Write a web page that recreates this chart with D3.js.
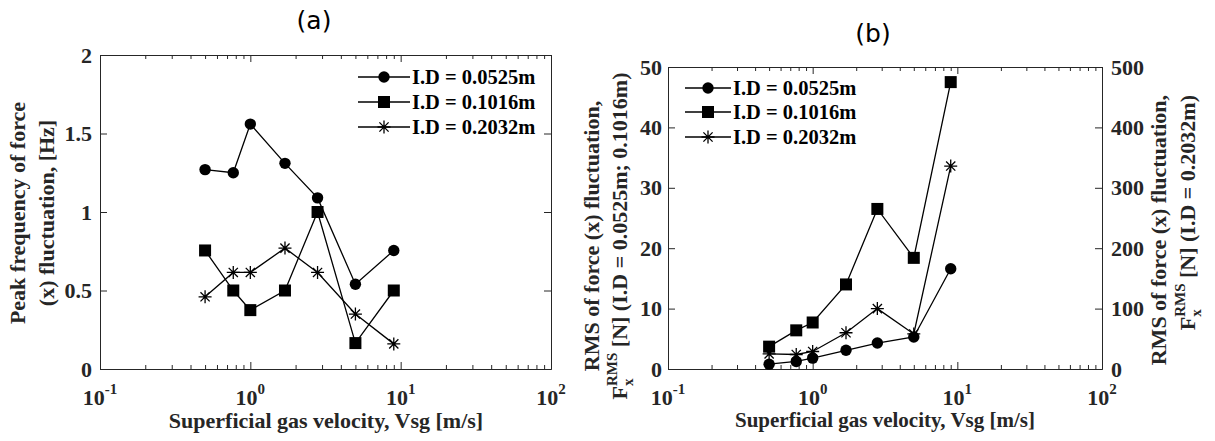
<!DOCTYPE html>
<html><head><meta charset="utf-8">
<script src="https://cdn.jsdelivr.net/npm/d3@7"></script>
<style>body{margin:0;background:#fff} svg{display:block}</style>
</head><body><svg id="c" width="1215" height="441"></svg>
<script>
// ---------------- data ----------------
const vsg = [0.5, 0.77, 1.0, 1.7, 2.8, 5.0, 9.0];
const seriesNames = ["I.D = 0.0525m", "I.D = 0.1016m", "I.D = 0.2032m"];
const markerTypes = ["circle", "square", "star"];
// (a) peak frequency [Hz]
const freq0525 = [1.27, 1.25, 1.56, 1.31, 1.09, 0.54, 0.755];
const freq1016 = [0.755, 0.5, 0.375, 0.5, 1.0, 0.165, 0.5];
const freq2032 = [0.46, 0.615, 0.615, 0.77, 0.615, 0.35, 0.16];
// (b) RMS force [N]
const rms0525 = [0.8, 1.25, 1.8, 3.1, 4.3, 5.3, 16.6];
const rms1016 = [3.7, 6.4, 7.7, 14.0, 26.5, 18.4, 47.5];
const rms2032 = [25, 24, 29, 60, 100, 58, 336];   // right axis
// ticks
const xDecades = [0.1, 1, 10, 100];
const xDecadeExp = ["-1", "0", "1", "2"];
const yTicksA = [0, 0.5, 1, 1.5, 2];
const yTickLabelsA = ["0", "0.5", "1", "1.5", "2"];
const yTicksBL = [0, 10, 20, 30, 40, 50];
const yTicksBR = [0, 100, 200, 300, 400, 500];

// ---------------- setup ----------------
const FONT = "Liberation Serif, Times New Roman, serif";
const AX = "#262626";
const svg = d3.select("#c");
const minorTicks = [];
[0.1, 1, 10].forEach(d => { for (let k = 2; k <= 9; k++) minorTicks.push(d * k); });

function measure(txt, size) {
  const t = svg.append("text").attr("font-family", FONT).attr("font-weight", "bold")
    .attr("font-size", size).text(txt);
  const w = t.node().getComputedTextLength(); t.remove(); return w;
}

function drawMarker(g, type, x, y) {
  if (type === "circle") g.append("circle").attr("cx", x).attr("cy", y).attr("r", 5.7).attr("fill", "#000");
  else if (type === "square") g.append("rect").attr("x", x - 6).attr("y", y - 6).attr("width", 12).attr("height", 12).attr("fill", "#000");
  else {
    const s = 6.5, d = 4.6;
    g.append("path").attr("d", `M${x - s},${y}H${x + s}M${x},${y - s}V${y + s}M${x - d},${y - d}L${x + d},${y + d}M${x - d},${y + d}L${x + d},${y - d}`)
      .attr("stroke", "#000").attr("stroke-width", 1.3).attr("fill", "none");
  }
}

function styleAxis(sel) {
  sel.selectAll(".domain").attr("stroke", AX).attr("stroke-width", 1);
  sel.selectAll(".tick line").attr("stroke", AX).attr("stroke-width", 1);
  sel.selectAll("text").attr("font-family", FONT).attr("font-weight", "bold")
    .attr("font-size", 22).attr("fill", AX);
}

function logXAxes(x, top, bottom) {
  [[d3.axisBottom, bottom], [d3.axisTop, top]].forEach(([fn, yy]) => {
    const gMaj = svg.append("g").attr("transform", `translate(0,${yy})`)
      .call(fn(x).tickValues(xDecades).tickSize(-7).tickSizeOuter(0).tickFormat(""));
    styleAxis(gMaj);
    const gMin = svg.append("g").attr("transform", `translate(0,${yy})`)
      .call(fn(x).tickValues(minorTicks).tickSize(-4).tickSizeOuter(0).tickFormat(""));
    styleAxis(gMin);
  });
  xDecades.forEach((d, i) => {
    const t = svg.append("text").attr("x", x(d)).attr("y", 405).attr("text-anchor", "middle")
      .attr("font-family", FONT).attr("font-weight", "bold").attr("font-size", 22).attr("fill", AX);
    t.append("tspan").text("10");
    t.append("tspan").attr("dy", -11).attr("font-size", 15).text(xDecadeExp[i]);
  });
}

function rotText(bx, cy, txt, anchor) {
  svg.append("text").attr("transform", `translate(${bx},${cy}) rotate(-90)`)
    .attr("text-anchor", anchor || "middle")
    .attr("font-family", FONT).attr("font-weight", "bold").attr("font-size", 22).attr("fill", AX)
    .text(txt);
}

function fRmsLabel(bx, yPos, anchor, rest) {
  const wF = measure("F", 22), wR = measure("RMS", 15), wr = measure(rest, 22);
  const total = wF + wR + wr;
  const x0 = anchor === "middle" ? -total / 2 : anchor === "end" ? -total : 0;
  const g = svg.append("g").attr("transform", `translate(${bx},${yPos}) rotate(-90)`)
    .attr("font-family", FONT).attr("font-weight", "bold").attr("fill", AX);
  g.append("text").attr("x", x0).attr("y", 0).attr("font-size", 22).text("F");
  g.append("text").attr("x", x0 + wF).attr("y", -10).attr("font-size", 15).text("RMS");
  g.append("text").attr("x", x0 + wF).attr("y", 6).attr("font-size", 15).text("x");
  g.append("text").attr("x", x0 + wF + wR).attr("y", 0).attr("font-size", 22).text(rest);
}

function drawSeries(x, y, vals, type) {
  const g = svg.append("g");
  const line = d3.line().x((d, i) => x(vsg[i])).y(d => y(d));
  g.append("path").attr("d", line(vals)).attr("fill", "none").attr("stroke", "#000").attr("stroke-width", 1.3);
  vals.forEach((v, i) => drawMarker(g, type, x(vsg[i]), y(v)));
}

function legend(xl0, xl1, xText, rows) {
  seriesNames.forEach((name, i) => {
    const yy = rows[i];
    svg.append("line").attr("x1", xl0).attr("x2", xl1).attr("y1", yy).attr("y2", yy)
      .attr("stroke", "#000").attr("stroke-width", 1.3);
    const g = svg.append("g");
    drawMarker(g, markerTypes[i], (xl0 + xl1) / 2, yy);
    svg.append("text").attr("x", xText).attr("y", yy + 7).attr("font-family", FONT)
      .attr("font-weight", "bold").attr("font-size", 20.5).attr("fill", "#000").text(name);
  });
}

// ---------------- panel (a) ----------------
{
  const L = 100, R = 551, T = 55, B = 369;
  const x = d3.scaleLog().domain([0.1, 100]).range([L, R]);
  const y = d3.scaleLinear().domain([0, 2]).range([B, T]);
  const gl = svg.append("g").attr("transform", `translate(${L},0)`)
    .call(d3.axisLeft(y).tickValues(yTicksA).tickSize(-7).tickSizeOuter(0).tickPadding(8)
      .tickFormat((d, i) => yTickLabelsA[i]));
  styleAxis(gl);
  const gr = svg.append("g").attr("transform", `translate(${R},0)`)
    .call(d3.axisRight(y).tickValues(yTicksA).tickSize(-7).tickSizeOuter(0).tickFormat(""));
  styleAxis(gr);
  logXAxes(x, T, B);
  [freq0525, freq1016, freq2032].forEach((s, i) => drawSeries(x, y, s, markerTypes[i]));
  legend(358, 410, 412, [77, 102, 127]);
  rotText(25, 213, "Peak frequency of force");
  rotText(54, 213, "(x) fluctuation, [Hz]");
  svg.append("text").attr("x", 326).attr("y", 428).attr("text-anchor", "middle")
    .attr("font-family", FONT).attr("font-weight", "bold").attr("font-size", 22).attr("fill", AX)
    .text("Superficial gas velocity, Vsg [m/s]");
  svg.append("text").attr("x", 314).attr("y", 29).attr("text-anchor", "middle")
    .attr("font-family", "DejaVu Sans, sans-serif").attr("font-size", 25).attr("fill", "#000").text("(a)");
}

// ---------------- panel (b) ----------------
{
  const L = 668, R = 1102, T = 67, B = 369;
  const x = d3.scaleLog().domain([0.1, 100]).range([L, R]);
  const yL = d3.scaleLinear().domain([0, 50]).range([B, T]);
  const yR = d3.scaleLinear().domain([0, 500]).range([B, T]);
  const gl = svg.append("g").attr("transform", `translate(${L},0)`)
    .call(d3.axisLeft(yL).tickValues(yTicksBL).tickSize(-7).tickSizeOuter(0).tickPadding(6));
  styleAxis(gl);
  const gr = svg.append("g").attr("transform", `translate(${R},0)`)
    .call(d3.axisRight(yR).tickValues(yTicksBR).tickSize(-7).tickSizeOuter(0).tickPadding(9));
  styleAxis(gr);
  logXAxes(x, T, B);
  drawSeries(x, yL, rms0525, markerTypes[0]);
  drawSeries(x, yL, rms1016, markerTypes[1]);
  drawSeries(x, yR, rms2032, markerTypes[2]);
  legend(685, 731, 733, [88, 112, 137]);
  rotText(599, 236, "RMS of force (x) fluctuation,");
  fRmsLabel(627, 236, "middle", "\u00A0[N] (I.D = 0.0525m; 0.1016m)");
  rotText(1166, 95, "RMS of force (x) fluctuation,", "end");
  fRmsLabel(1195, 95, "end", "\u00A0[N] (I.D = 0.2032m)");
  svg.append("text").attr("x", 885).attr("y", 427).attr("text-anchor", "middle")
    .attr("font-family", FONT).attr("font-weight", "bold").attr("font-size", 21).attr("fill", AX)
    .text("Superficial gas velocity, Vsg [m/s]");
  svg.append("text").attr("x", 873).attr("y", 42).attr("text-anchor", "middle")
    .attr("font-family", "DejaVu Sans, sans-serif").attr("font-size", 25).attr("fill", "#000").text("(b)");
}
</script></body></html>
